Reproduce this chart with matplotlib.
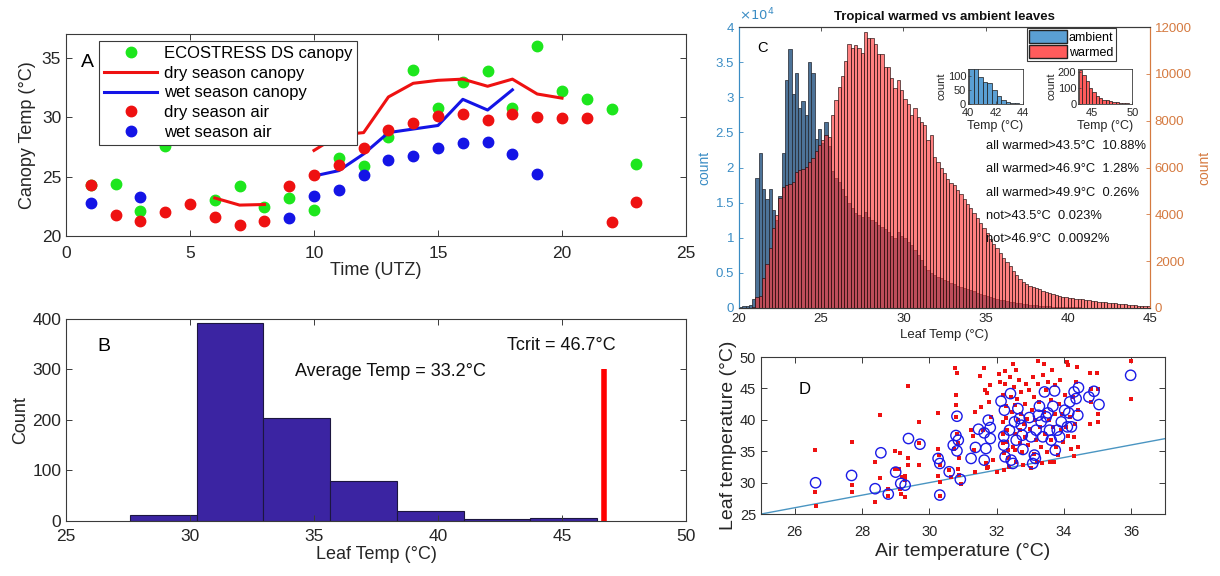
import numpy as np
import matplotlib
matplotlib.use('Agg')
import matplotlib.pyplot as plt
from matplotlib.ticker import MultipleLocator, FuncFormatter
from matplotlib.patches import Patch

plt.rcParams['font.family'] = ['Liberation Sans', 'DejaVu Sans']

# ---------------- panel A : diurnal canopy / air temps
eco_hours = [1, 2, 3, 4, 6, 7, 8, 9, 10, 11, 12, 13, 14, 15, 16, 17, 18, 19, 20, 21, 22, 23]
eco_canopy = [24.3, 24.4, 22.1, 27.6, 23.0, 24.2, 22.4, 23.2, 22.2, 26.6, 25.9, 28.3,
              34.0, 30.75, 33.0, 33.9, 30.75, 36.0, 32.2, 31.5, 30.7, 26.1]
dry_canopy_hours = [6, 7, 8, 9, 10, 11, 12, 13, 14, 15, 16, 17, 18, 19, 20]
dry_canopy = [23.2, 22.6, 22.65, np.nan, 27.2, 28.5, 28.7, 31.7, 32.85, 33.1, 33.2,
              32.6, 33.2, 31.95, 31.6]
wet_canopy_hours = [10, 11, 12, 13, 14, 15, 16, 17, 18]
wet_canopy = [25.05, 25.5, 26.9, 28.7, 29.0, 29.3, 31.5, 30.6, 32.3]
dry_air_hours = list(range(1, 24))
dry_air = [24.3, 21.8, 21.3, 22.0, 22.7, 21.6, 20.9, 21.3, 24.2, 25.1, 26.0, 27.4,
           28.9, 29.5, 30.1, 30.3, 29.8, 30.25, 30.0, 29.9, 29.9, 21.2, 22.9]
wet_air_hours = [1, 3, 9, 10, 11, 12, 13, 14, 15, 16, 17, 18, 19]
wet_air = [22.8, 23.3, 21.5, 23.4, 23.9, 25.1, 26.4, 26.7, 27.4, 27.8, 27.9, 26.9, 25.25]

# ---------------- panel B : leaf temp histogram
b_edges = [27.58, 30.27, 32.96, 35.65, 38.34, 41.03, 43.72, 46.41]
b_counts = [11, 392, 204, 79, 20, 3, 5]
avg_temp = 33.2
tcrit = 46.7
tcrit_height = 300

# ---------------- panel C : warmed vs ambient (0.2 C bins from 20)
c_start = 20.0
c_width = 0.2
ambient = [200, 300, 300, 400, 1300, 18500, 22000, 17000, 15500, 17000,
           14000, 12500, 16000, 22000, 32500, 36800, 30500, 33500, 28500, 29500,
           27500, 35000, 33500, 24000, 25500, 23500, 26500, 23000, 19500, 18500,
           18000, 17000, 16000, 15000, 14300, 13500, 13200, 13000, 13600, 13000,
           12500, 12300, 11800, 11500, 11200, 10800, 10200, 9900, 10800, 10300,
           9900, 9400, 9000, 8300, 7500, 6800, 6000, 5400, 5000, 4700,
           4400, 4200, 4000, 3800, 3600, 3400, 3200, 3000, 2800, 2650,
           2500, 2350, 2200, 2050, 1900, 1750, 1600, 1450, 1300, 1200,
           1100, 1000, 900, 800, 750, 700, 620, 550, 480, 420,
           370, 330, 290, 260, 230, 200, 180, 160, 140, 125,
           110, 100, 90, 75, 65, 55, 50, 40, 35, 30,
           25, 20, 16, 12, 10, 8, 6, 4, 3, 2,
           1, 1, 0, 0, 0]
warmed = [0, 0, 0, 0, 50, 480, 530, 1270, 1860, 2575,
          3400, 3970, 4700, 5150, 5250, 5300, 5390, 5800, 5900, 5930,
          6030, 6250, 6390, 6700, 6960, 7170, 7390, 7310, 8250, 8880,
          9450, 9900, 10550, 11260, 11090, 11230, 11090, 10875, 11800, 11540,
          11510, 11260, 10830, 10830, 10280, 10280, 9840, 9410, 9730, 9310,
          8925, 8700, 8240, 8555, 8170, 7960, 7815, 7175, 7390, 6460,
          6250, 5965, 5750, 5500, 5350, 5250, 5050, 4850, 4650, 4450,
          4250, 4050, 3850, 3650, 3400, 3200, 2950, 2750, 2550, 2350,
          2150, 1950, 1780, 1600, 1420, 1250, 1130, 1040, 960, 900,
          860, 790, 720, 670, 620, 580, 545, 510, 480, 455,
          435, 420, 405, 390, 370, 350, 330, 310, 290, 270,
          255, 240, 225, 210, 195, 180, 165, 150, 135, 125,
          115, 105, 95, 85, 75]
inset_amb_start, inset_amb_width = 40.07, 0.334
inset_amb = [135, 128, 95, 76, 74, 50, 27, 15, 8, 4, 2]
inset_warm_start, inset_warm_width = 43.4, 0.41
inset_warm = [210, 179, 144, 97, 76, 52, 39, 25, 23, 19, 14, 10, 8, 6, 4, 3]
c_notes = ['all warmed>43.5°C  10.88%', 'all warmed>46.9°C  1.28%',
           'all warmed>49.9°C  0.26%', 'not>43.5°C  0.023%', 'not>46.9°C  0.0092%']

# ---------------- panel D : leaf vs air temperature
d_red = np.array([
    (26.6, 35.17), (26.6, 28.44), (26.62, 26.32), (27.69, 36.39), (27.69, 29.6), (27.69, 28.44),
    (28.38, 33.32), (28.38, 26.85), (28.53, 40.73), (28.53, 30.67), (28.77, 28.92), (28.77, 27.86),
    (28.98, 35.06), (28.98, 32.1), (29.1, 32.1), (29.13, 34.64), (29.13, 28.92), (29.15, 28.12),
    (29.2, 30.93), (29.27, 31.09), (29.27, 30.4), (29.27, 27.75), (29.38, 45.34), (29.38, 33.85),
    (29.38, 32.79), (29.7, 39.67), (29.7, 36.23), (29.7, 32.79), (30.26, 41.1), (30.26, 35.43),
    (30.26, 31.09), (30.29, 34.38), (30.32, 32.79), (30.32, 30.14), (30.32, 27.91), (30.59, 31.99),
    (30.64, 30.93), (30.72, 35.43), (30.76, 48.3), (30.79, 43.91), (30.79, 42.32), (30.79, 40.47),
    (30.82, 47.51), (30.82, 37.71), (30.84, 36.33), (30.89, 33.85), (30.86, 32.1), (30.89, 31.2),
    (30.94, 29.77), (31.24, 38.35), (31.29, 37.39), (31.34, 35.17), (31.36, 41.26), (31.36, 31.73),
    (31.49, 46.93), (31.53, 42.06), (31.6, 38.45), (31.63, 48.3), (31.65, 44.7), (31.67, 33.05),
    (31.7, 32.26), (31.7, 44.28), (31.75, 32.42), (31.78, 42.85), (31.79, 45.6), (31.83, 40.47),
    (31.88, 33.58), (32.01, 31.73), (32.08, 47.35), (32.11, 46.03), (32.18, 43.91), (32.18, 39.67),
    (32.18, 37.82), (32.18, 36.23), (32.21, 34.64), (32.23, 31.99), (32.25, 47.78), (32.25, 45.76),
    (32.28, 42.16), (32.28, 40.36), (32.31, 38.35), (32.31, 36.49), (32.33, 35.17), (32.35, 33.85),
    (32.38, 32.52), (32.41, 46.82), (32.43, 43.64), (32.45, 41.26), (32.48, 48.94), (32.48, 35.7),
    (32.51, 45.23), (32.53, 42.32), (32.53, 37.82), (32.55, 35.17), (32.58, 47.88), (32.58, 33.32),
    (32.61, 43.38), (32.63, 39.94), (32.65, 46.29), (32.68, 38.35), (32.68, 36.23), (32.71, 44.44),
    (32.73, 40.99), (32.75, 34.9), (32.78, 32.79), (32.81, 39.41), (32.83, 37.29), (32.85, 42.48),
    (32.87, 45.76), (32.9, 40.2), (32.92, 35.96), (32.97, 44.7), (33.0, 38.61), (33.02, 32.26),
    (33.04, 41.53), (33.07, 46.82), (33.1, 34.53), (33.12, 43.64), (33.14, 40.04), (33.17, 36.76),
    (33.2, 33.32), (33.22, 45.76), (33.24, 49.36), (33.27, 42.85), (33.3, 38.88), (33.32, 35.7),
    (33.34, 33.05), (33.37, 47.09), (33.4, 41.26), (33.42, 48.94), (33.44, 37.82), (33.47, 44.7),
    (33.5, 34.9), (33.52, 46.03), (33.54, 39.94), (33.57, 33.32), (33.6, 43.11), (33.62, 36.76),
    (33.64, 47.88), (33.67, 38.88), (33.7, 33.32), (33.72, 45.5), (33.74, 41.0), (33.77, 35.7),
    (33.82, 34.38), (33.84, 42.58), (33.87, 46.29), (33.9, 38.35), (33.94, 41.0), (33.97, 36.49),
    (34.02, 43.91), (34.07, 38.88), (34.1, 49.2), (34.12, 48.68), (34.12, 37.39), (34.17, 40.47),
    (34.22, 35.43), (34.27, 43.64), (34.3, 34.22), (34.31, 37.29), (34.33, 39.41), (34.36, 46.03),
    (34.39, 48.41), (34.41, 35.7), (34.43, 41.53), (34.76, 47.46), (34.76, 39.41), (34.79, 44.97),
    (34.81, 42.85), (34.99, 47.46), (35.0, 44.97), (35.0, 41.0), (35.0, 39.67), (35.99, 49.36),
    (35.99, 43.38)])
d_blue = np.array([
    (26.62, 29.98), (27.69, 31.14), (28.39, 29.03), (28.56, 34.75), (28.78, 28.18), (29.0, 31.67),
    (29.15, 29.87), (29.28, 29.6), (29.38, 37.02), (29.72, 36.12), (30.26, 33.85), (30.31, 33.05),
    (30.31, 28.02), (30.59, 31.73), (30.71, 35.96), (30.79, 37.5), (30.82, 40.57), (30.86, 36.76),
    (30.82, 35.06), (30.92, 30.51), (31.24, 33.85), (31.37, 35.6), (31.46, 38.5), (31.63, 37.92),
    (31.63, 33.58), (31.68, 35.43), (31.75, 39.94), (31.81, 38.77), (31.81, 37.02), (32.13, 42.96),
    (32.21, 37.39), (32.23, 41.53), (32.21, 35.96), (32.25, 34.11), (32.38, 38.35), (32.41, 44.17),
    (32.43, 33.58), (32.48, 33.05), (32.53, 39.67), (32.58, 36.76), (32.63, 41.79), (32.68, 40.2),
    (32.73, 39.14), (32.76, 37.55), (32.78, 35.28), (32.97, 40.36), (33.02, 37.29), (33.07, 33.05),
    (33.12, 34.38), (33.15, 33.85), (33.17, 38.35), (33.24, 40.73), (33.27, 42.16), (33.32, 39.67),
    (33.37, 37.29), (33.42, 44.44), (33.47, 40.47), (33.52, 41.1), (33.57, 38.35), (33.62, 36.76),
    (33.67, 42.16), (33.72, 44.6), (33.74, 35.17), (33.8, 38.35), (33.87, 37.29), (33.92, 39.67),
    (34.02, 41.53), (34.1, 38.88), (34.14, 41.1), (34.17, 42.85), (34.22, 38.88), (34.3, 44.44),
    (34.36, 43.38), (34.41, 40.73), (34.43, 45.13), (34.74, 43.64), (34.89, 44.54), (35.04, 42.43),
    (35.98, 47.09)])
d_xlim = (25, 37)
d_ylim = (25, 50)

# ---------------- styling helpers
AX_COL = '#3a3a3a'
TXT_COL = '#262626'


def matlab_axes(ax, fs, pad=3.5):
    ax.tick_params(direction='in', top=True, right=True, labelsize=fs,
                   colors=AX_COL, labelcolor=TXT_COL, length=4, width=0.7)
    ax.tick_params(axis='x', pad=pad)
    for s in ax.spines.values():
        s.set_color(AX_COL)
        s.set_linewidth(0.8)


fig = plt.figure(figsize=(12.2, 5.76), dpi=100)

# ---------- A
axa = fig.add_axes([0.0541, 0.5903, 0.5082, 0.3507])
green, red, blue = '#1de61d', '#ee1111', '#1414e6'
axa.plot(eco_hours, eco_canopy, 'o', color=green, ms=7.5, label='ECOSTRESS DS canopy')
axa.plot(dry_canopy_hours, dry_canopy, '-', color=red, lw=2.2, label='dry season canopy')
axa.plot(wet_canopy_hours, wet_canopy, '-', color=blue, lw=2.2, label='wet season canopy')
axa.plot(dry_air_hours, dry_air, 'o', color=red, ms=7.5, label='dry season air')
axa.plot(wet_air_hours, wet_air, 'o', color=blue, ms=7.5, label='wet season air')
axa.set_xlim(0, 25)
axa.set_ylim(20, 37)
axa.xaxis.set_major_locator(MultipleLocator(5))
axa.yaxis.set_major_locator(MultipleLocator(5))
matlab_axes(axa, 12.5, pad=7)
axa.set_xlabel('Time (UTZ)', fontsize=13, color=TXT_COL, labelpad=1)
axa.set_ylabel('Canopy Temp (°C)', fontsize=13, color=TXT_COL, labelpad=4)
leg = axa.legend(loc='upper left', bbox_to_anchor=(0.053, 0.965), fontsize=12,
                 numpoints=1, handlelength=3.2, labelspacing=0.28, borderpad=0.3,
                 handletextpad=0.4, borderaxespad=0, fancybox=False, framealpha=1,
                 edgecolor=AX_COL)
leg.get_frame().set_linewidth(0.8)
axa.text(0.024, 0.86, 'A', transform=axa.transAxes, fontsize=14, color='black', va='center')

# ---------- B
axb = fig.add_axes([0.0541, 0.0955, 0.5082, 0.3507])
axb.bar(b_edges[:-1], b_counts, width=np.diff(b_edges), align='edge',
        color='#3b24a2', edgecolor='#1c1640', linewidth=0.8)
axb.plot([tcrit, tcrit], [0, tcrit_height], color='#ff0000', lw=4, solid_capstyle='butt')
axb.set_xlim(25, 50)
axb.set_ylim(0, 400)
axb.xaxis.set_major_locator(MultipleLocator(5))
axb.yaxis.set_major_locator(MultipleLocator(100))
matlab_axes(axb, 12.5, pad=6)
axb.set_xlabel('Leaf Temp (°C)', fontsize=13, color=TXT_COL, labelpad=1)
axb.set_ylabel('Count', fontsize=13, color=TXT_COL, labelpad=2)
axb.text(0.05, 0.865, 'B', transform=axb.transAxes, fontsize=14, va='center')
axb.text(34.25, 297, 'Average Temp = %.1f°C' % avg_temp, fontsize=13, va='center', color='#111')
axb.text(42.77, 348, 'Tcrit = %.1f°C' % tcrit, fontsize=13, va='center', color='#111')

# ---------- C
c_blue_ax = '#3a8cc4'
c_orange = '#d57a40'
axc = fig.add_axes([0.6057, 0.4653, 0.3369, 0.4878])
edges = c_start + c_width * np.arange(len(ambient) + 1)
axc.bar(edges[:-1], ambient, width=c_width, align='edge',
        color='#4d7398', edgecolor='#20242c', linewidth=0.5)
axc.set_xlim(20, 45)
axc.set_ylim(0, 40000)
axc.yaxis.set_major_locator(MultipleLocator(5000))
axc.yaxis.set_major_formatter(FuncFormatter(lambda v, p: '%g' % (v / 1e4)))
axc.xaxis.set_major_locator(MultipleLocator(5))
axc.tick_params(direction='in', top=True, labelsize=9.5, length=3, width=0.6,
                colors=AX_COL, labelcolor=TXT_COL)
axc.tick_params(axis='y', colors=c_blue_ax, labelcolor=c_blue_ax, right=False)
axc.set_xlabel('Leaf Temp (°C)', fontsize=9.5, color=TXT_COL, labelpad=3)
axc.set_ylabel('count', fontsize=10, color=c_blue_ax, labelpad=3)
axc.text(0.0, 1.012, r'$\times10^4$', transform=axc.transAxes, fontsize=9.5,
         color=c_blue_ax, va='bottom')
axc.set_title('Tropical warmed vs ambient leaves', fontsize=9.5, fontweight='bold',
              color='#111', pad=5)

axc2 = axc.twinx()
axc2.bar(edges[:-1], warmed, width=c_width, align='edge',
         color=(1.0, 0.22, 0.22, 0.64), edgecolor=(0.12, 0.05, 0.05, 0.9), linewidth=0.5)
axc2.set_ylim(0, 12000)
axc2.yaxis.set_major_locator(MultipleLocator(2000))
axc2.tick_params(direction='in', labelsize=9.5, length=3, width=0.6,
                 colors=c_orange, labelcolor=c_orange)
axc2.set_ylabel('count', fontsize=10, color=c_orange, labelpad=4)
for a in (axc, axc2):
    a.spines['top'].set_color(AX_COL)
    a.spines['bottom'].set_color(AX_COL)
    a.spines['left'].set_color(c_blue_ax)
    a.spines['right'].set_color(c_orange)
    for s in a.spines.values():
        s.set_linewidth(0.8)

handles = [Patch(facecolor='#5a9fd4', edgecolor='#222'),
           Patch(facecolor='#ff5c5c', edgecolor='#222')]
legc = axc2.legend(handles, ['ambient', 'warmed'], loc='upper right',
                   bbox_to_anchor=(0.917, 0.998), fontsize=9, fancybox=False,
                   framealpha=1, edgecolor=AX_COL, handlelength=3.0, handleheight=1.2,
                   labelspacing=0.1, borderpad=0.2, handletextpad=0.15, borderaxespad=0)
legc.get_frame().set_linewidth(0.8)
axc2.text(0.044, 0.925, 'C', transform=axc2.transAxes, fontsize=10.5, va='center')
for i, note in enumerate(c_notes):
    axc2.text(0.60, 0.577 - 0.083 * i, note, transform=axc2.transAxes,
              fontsize=9.3, va='center', color='#111')

# insets
ins1 = fig.add_axes([0.7937, 0.8194, 0.0446, 0.0603])
e1 = inset_amb_start + inset_amb_width * np.arange(len(inset_amb))
ins1.bar(e1, inset_amb, width=inset_amb_width, align='edge', color='#5a9fd4',
         edgecolor='#1a1a1a', linewidth=0.5)
ins1.set_xlim(40, 44)
ins1.set_ylim(0, 122)
ins1.set_xticks([40, 42, 44])
ins1.set_yticks([0, 50, 100])
ins2 = fig.add_axes([0.8839, 0.8194, 0.0443, 0.0603])
e2 = inset_warm_start + inset_warm_width * np.arange(len(inset_warm))
ins2.bar(e2, inset_warm, width=inset_warm_width, align='edge', color='#ff5c5c',
         edgecolor='#1a1a1a', linewidth=0.5)
ins2.set_xlim(43.3, 50)
ins2.set_ylim(0, 215)
ins2.set_xticks([45, 50])
ins2.set_yticks([0, 100, 200])
for ins in (ins1, ins2):
    ins.tick_params(direction='in', labelsize=8, length=2, width=0.5, pad=1.5,
                    colors=AX_COL, labelcolor=TXT_COL)
    ins.tick_params(axis='x', pad=3)
    ins.set_xlabel('Temp (°C)', fontsize=9, color=TXT_COL, labelpad=1)
    ins.set_ylabel('count', fontsize=8, color=TXT_COL, labelpad=1)
    for s in ins.spines.values():
        s.set_linewidth(0.6)
        s.set_color(AX_COL)

# ---------- D
axd = fig.add_axes([0.6238, 0.1076, 0.3311, 0.2726])
axd.plot(d_xlim, d_xlim, color='#4a95c2', lw=1)
axd.scatter(d_red[:, 0], d_red[:, 1], s=9, color='#ee1111', marker='s', linewidths=0, zorder=3)
axd.scatter(d_blue[:, 0], d_blue[:, 1], s=55, facecolors='none', edgecolors='#1a1ae6',
            linewidths=1.0, zorder=4)
axd.set_xlim(*d_xlim)
axd.set_ylim(*d_ylim)
axd.xaxis.set_major_locator(MultipleLocator(2))
axd.yaxis.set_major_locator(MultipleLocator(5))
matlab_axes(axd, 10.5, pad=8)
axd.set_xlabel('Air temperature (°C)', fontsize=14, color=TXT_COL, labelpad=3)
axd.set_ylabel('Leaf temperature (°C)', fontsize=14, color=TXT_COL, labelpad=2)
axd.text(0.094, 0.79, 'D', transform=axd.transAxes, fontsize=12, va='center')

fig.savefig('out.png', dpi=100, facecolor='white')
